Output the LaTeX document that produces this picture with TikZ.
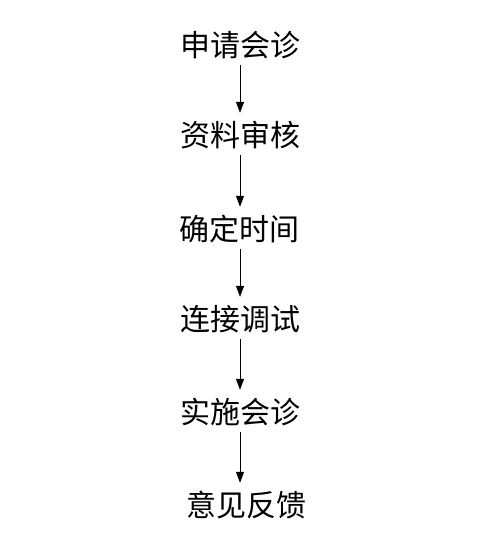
\documentclass[tikz,border=0pt]{standalone}
\usepackage{fontspec}
\newfontfamily\cjk{Noto Sans CJK SC}
\usetikzlibrary{arrows.meta}
\begin{document}
\begin{tikzpicture}[x=1pt,y=-1pt,
  stepnode/.style={font=\cjk\fontsize{30}{30}\selectfont, inner sep=0pt, minimum height=40pt, text=black},
  flowarrow/.style={draw=black, line width=1pt, -{Triangle[length=11pt,width=8pt]}, shorten >=2pt}]
\useasboundingbox[fill=white] (0,0) rectangle (498,545);
\node[stepnode] (a) at (240,45) {申请会诊};
\node[stepnode] (b) at (240,135) {资料审核};
\node[stepnode] (c) at (239,229) {确定时间};
\node[stepnode] (d) at (240,319) {连接调试};
\node[stepnode] (e) at (240,412) {实施会诊};
\node[stepnode] (f) at (246,505) {意见反馈};
\draw[flowarrow] (a.south) -- (a.south |- b.north);
\draw[flowarrow] (b.south) -- (b.south |- c.north);
\draw[flowarrow] (b.south |- c.south) -- (b.south |- d.north);
\draw[flowarrow] (d.south) -- (d.south |- e.north);
\draw[flowarrow] (e.south) -- (e.south |- f.north);
\end{tikzpicture}
\end{document}
